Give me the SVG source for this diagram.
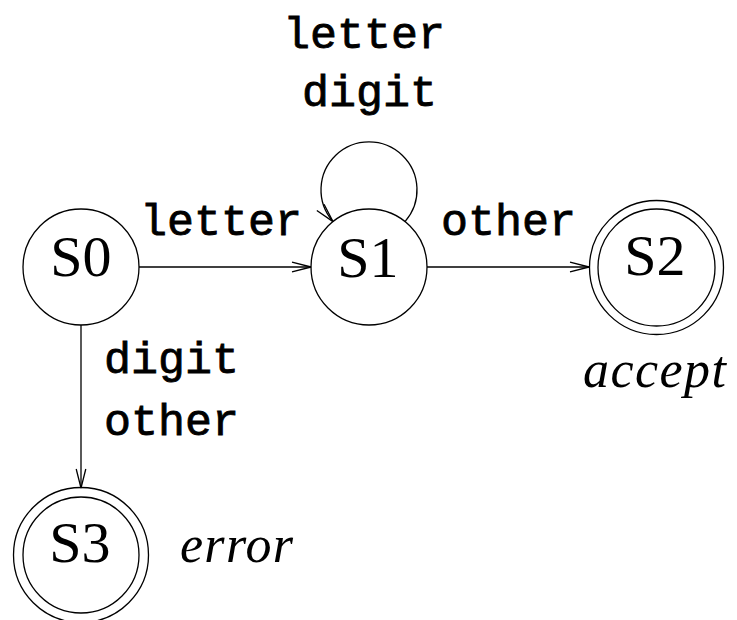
<svg xmlns="http://www.w3.org/2000/svg" width="737" height="620" viewBox="0 0 737 620">
<style>
.st{fill:none;stroke:#000;stroke-width:1.3}
.edge{fill:none;stroke:#000;stroke-width:1.3;marker-end:url(#arr)}
.lbl{font-family:"Liberation Serif","Times New Roman",serif;font-size:58px;fill:#000;text-anchor:middle}
.tt{font-family:"Liberation Mono","Courier New",monospace;font-size:45px;fill:#000;stroke:#000;stroke-width:0.8}
.it{font-family:"Liberation Serif","Times New Roman",serif;font-style:italic;font-size:52px;fill:#000}
</style>
<defs>
<marker id="arr" markerUnits="userSpaceOnUse" markerWidth="24" markerHeight="14" viewBox="-21 -7 24 14" refX="0" refY="0" orient="auto">
<path d="M-19,-4.8 L0,0 L-19,4.8" fill="none" stroke="#000" stroke-width="1.3"/>
</marker>
</defs>
<g id="connectors">
<line class="edge" x1="139" y1="267" x2="311" y2="267"/>
<line class="edge" x1="427" y1="267" x2="589" y2="267"/>
<line class="edge" x1="81" y1="325" x2="81" y2="488"/>
<path class="edge" d="M405,221.6 A48,48 0 1 0 333,221.6"/>
<text class="tt" x="140" y="235">letter</text>
<text class="tt" x="441" y="235">other</text>
<text class="tt" x="283" y="48">letter</text>
<text class="tt" x="302" y="106">digit</text>
<text class="tt" x="104" y="373">digit</text>
<text class="tt" x="104" y="435">other</text>
</g>
<g id="S0">
<circle class="st" cx="81" cy="267" r="58"/>
<text class="lbl" x="81" y="276">S0</text>
</g>
<g id="S1">
<circle class="st" cx="369" cy="267" r="58"/>
<text class="lbl" x="368" y="277">S1</text>
</g>
<g id="S2">
<circle class="st" cx="656.5" cy="267.5" r="67"/>
<circle class="st" cx="656.5" cy="267.5" r="58.5"/>
<text class="lbl" x="655" y="275">S2</text>
<text class="it" x="583" y="387" textLength="143" lengthAdjust="spacing">accept</text>
</g>
<g id="S3">
<circle class="st" cx="81" cy="555" r="67.5"/>
<circle class="st" cx="81" cy="555" r="58"/>
<text class="lbl" x="80" y="562">S3</text>
<text class="it" x="180" y="562" textLength="113" lengthAdjust="spacing">error</text>
</g>
</svg>
